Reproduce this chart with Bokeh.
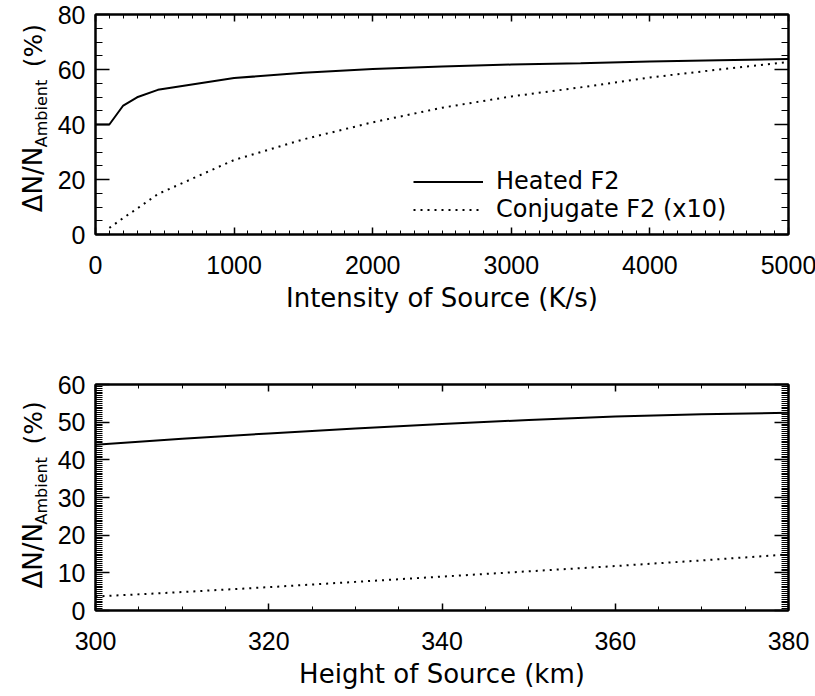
import math
from bokeh.plotting import figure
from bokeh.models import (LinearAxis, SingleIntervalTicker, Range1d,
                          Legend, LegendItem, CustomLabelingPolicy)
from bokeh.layouts import column, row
from bokeh.core.properties import value
from bokeh.embed import file_html
from bokeh.resources import INLINE

# ---------------- data ----------------
intensity = [0, 100, 200, 300, 450, 1000, 1500, 2000, 2500, 3000, 3500, 4000, 4500, 5000]
heated_vs_intensity = [40.0, 40.0, 46.9, 49.9, 52.6, 56.9, 58.8, 60.2, 61.1, 61.8, 62.3, 62.9, 63.4, 63.8]

intensity_conj = [100, 200, 300, 450, 1000, 1500, 2000, 2500, 3000, 3500, 4000, 4500, 5000]
conj_vs_intensity = [2.4, 6.0, 9.4, 14.7, 27.1, 34.6, 40.8, 46.1, 50.2, 53.5, 57.1, 60.0, 62.7]

height = [300, 310, 320, 330, 340, 350, 360, 370, 380]
heated_vs_height = [44.0, 45.6, 47.0, 48.3, 49.5, 50.6, 51.5, 52.1, 52.5]
conj_vs_height = [3.7, 4.9, 6.2, 7.6, 9.0, 10.4, 11.8, 13.3, 14.9]

legend_labels = ["Heated F2", "Conjugate F2 (x10)"]
x_titles = ["Intensity of Source (K/s)", "Height of Source (km)"]
y_title_parts = ["\u0394N/N", "Ambient", "(%)"]

TICK_FONT = "Liberation Sans"
TEXT_FONT = "DejaVu Sans"
TITLE_W = 54
LEFT_PANEL = 40


def style_axis(ax, major_len, minor_len, labels):
    ax.axis_line_width = 2
    ax.axis_line_color = "black"
    ax.major_tick_in = major_len
    ax.major_tick_out = 0
    ax.minor_tick_in = minor_len
    ax.minor_tick_out = 0
    ax.major_tick_line_width = 1.5
    ax.minor_tick_line_width = 1
    ax.major_tick_line_color = "black"
    ax.minor_tick_line_color = "black"
    if labels:
        ax.major_label_text_font = TICK_FONT
        ax.major_label_text_font_size = "25px"
        ax.major_label_text_color = "black"
    else:
        ax.major_label_policy = CustomLabelingPolicy(code="return new Set()")
        ax.major_label_text_font_size = "0px"
        ax.major_label_standoff = 0
        ax.axis_label = None


def make_fig(xr, yr, fh, mbt, mbb, xlabel, xint, xminor, yint, yminor, tick_standoff):
    p = figure(frame_width=693, frame_height=fh,
               x_range=Range1d(*xr), y_range=Range1d(*yr),
               output_backend="svg", toolbar_location=None,
               x_axis_type=None, y_axis_type=None,
               min_border_left=LEFT_PANEL, min_border_right=28,
               min_border_top=mbt, min_border_bottom=mbb)
    p.outline_line_color = "black"
    p.outline_line_width = 2
    p.background_fill_color = "white"
    p.border_fill_color = "white"

    for side in ("below", "above"):
        ax = LinearAxis(ticker=SingleIntervalTicker(interval=xint, num_minor_ticks=xminor))
        style_axis(ax, 7, 4, side == "below")
        if side == "below":
            ax.axis_label = xlabel
            ax.axis_label_text_font = TEXT_FONT
            ax.axis_label_text_font_size = "26px"
            ax.axis_label_text_font_style = "normal"
            ax.axis_label_text_color = "black"
            ax.major_label_standoff = tick_standoff
            ax.axis_label_standoff = 6
        p.add_layout(ax, side)
    for side in ("left", "right"):
        ax = LinearAxis(ticker=SingleIntervalTicker(interval=yint, num_minor_ticks=yminor))
        style_axis(ax, 14, 7, side == "left")
        if side == "left":
            ax.major_label_standoff = 10
        p.add_layout(ax, side)
    return p


def make_title(h, frame_top, frame_h, starts):
    """Narrow panel holding the rotated y-axis title  ΔN/N_Ambient (%).
    Its frame is aligned by the row layout with the neighbouring plot's frame,
    so its y range is expressed in page pixels of that frame (top -> bottom)."""
    t = figure(width=TITLE_W, height=h, x_range=Range1d(0, TITLE_W),
               y_range=Range1d(frame_top + frame_h, frame_top),
               output_backend="svg", toolbar_location=None,
               x_axis_type=None, y_axis_type=None,
               min_border_left=0, min_border_right=0,
               min_border_top=frame_top - (0 if frame_top < 370 else 370),
               min_border_bottom=0, frame_height=frame_h, frame_width=TITLE_W)
    t.outline_line_color = None
    t.background_fill_color = "white"
    t.border_fill_color = "white"
    sizes = ["26px", "16px", "25px"]
    xs = [32.9, 41.1, 33.3]          # centre lines of the rotated text rows
    for part, size, xx, yy in zip(y_title_parts, sizes, xs, starts):
        t.text(x=[xx], y=[yy], text=[part], angle=math.pi / 2,
               text_align="left", text_baseline="middle",
               text_color="black", text_font=value(TEXT_FONT),
               text_font_size=value(size))
    return t


P1_H = 370
P1_TOP, P1_FH = 14, 220
P2_TOP, P2_FH = 14, 226

p1 = make_fig((0, 5000), (0, 80), P1_FH, P1_TOP, P1_H - P1_TOP - P1_FH,
              x_titles[0], 1000, 10, 20, 4, 21)
r1 = p1.line(intensity, heated_vs_intensity, line_color="black", line_width=2)
r2 = p1.line(intensity_conj, conj_vs_intensity, line_color="black", line_width=2,
             line_dash="2 5")
legend = Legend(items=[LegendItem(label=legend_labels[0], renderers=[r1]),
                       LegendItem(label=legend_labels[1], renderers=[r2])],
                location=(318, 11))
legend.border_line_color = None
legend.background_fill_alpha = 0
legend.padding = 0
legend.margin = 0
legend.spacing = 0
legend.glyph_width = 70
legend.glyph_height = 25
legend.label_height = 25
legend.label_standoff = 13
legend.label_text_font = TEXT_FONT
legend.label_text_font_size = "24px"
legend.label_text_color = "black"
p1.add_layout(legend)

p2 = make_fig((300, 380), (0, 60), P2_FH, P2_TOP, 0, x_titles[1], 20, 4, 10, 20, 21)
p2.line(height, heated_vs_height, line_color="black", line_width=2)
p2.line(height, conj_vs_height, line_color="black", line_width=2, line_dash="2 5")

t1 = make_title(P1_H, P1_TOP, P1_FH, [211.7, 146.7, 66.7])
t2 = make_title(P2_TOP + P2_FH, P1_H + P2_TOP, P2_FH, [588, 524, 444])

layout = column(row(t1, p1, spacing=0), row(t2, p2, spacing=0), spacing=0)
open("out.html", "w").write(file_html(layout, INLINE))
